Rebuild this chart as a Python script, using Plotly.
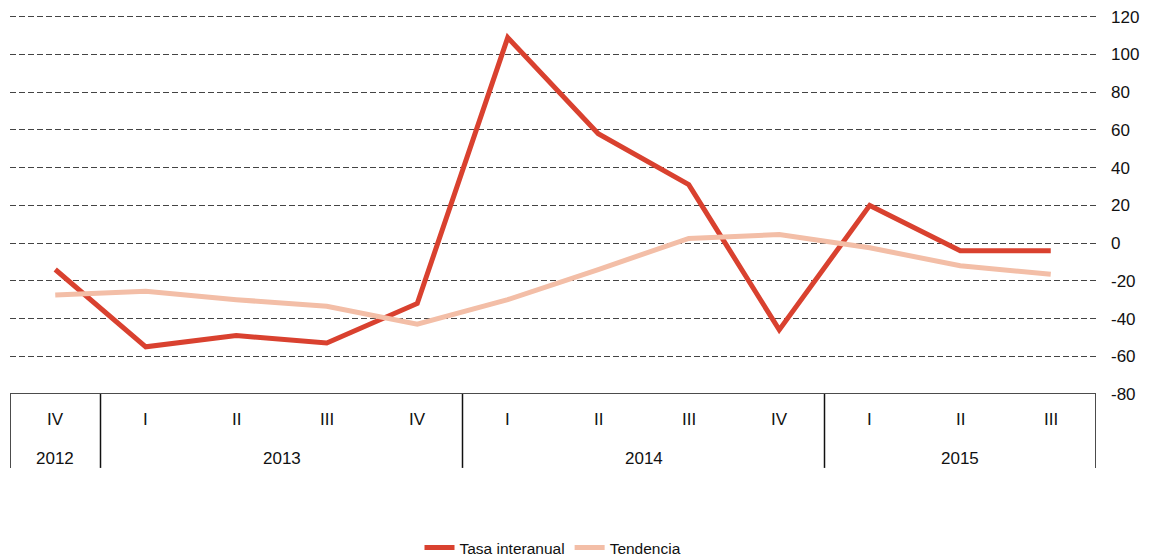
import plotly.graph_objects as go

quarters = ["IV", "I", "II", "III", "IV", "I", "II", "III", "IV", "I", "II", "III"]
years = ["2012", "2013", "2014", "2015"]
year_spans = [(0, 0), (1, 4), (5, 8), (9, 11)]
tasa = [-14, -55, -49, -53, -32, 109, 58, 31, -46, 20, -4, -4]
tendencia = [-27.5, -25.5, -30, -33.5, -43, -30, -14, 2.5, 4.5, -2.5, -12, -16.5]
y_ticks = [-80, -60, -40, -20, 0, 20, 40, 60, 80, 100, 120]
y_tick_labels = ["-80", "-60", "-40", "-20", "0", "20", "40", "60", "80", "100", "120"]

x = list(range(len(quarters)))

fig = go.Figure()
fig.add_trace(go.Scatter(x=x, y=tasa, mode="lines", name="Tasa interanual",
                         line=dict(color="#d9412f", width=5)))
fig.add_trace(go.Scatter(x=x, y=tendencia, mode="lines", name="Tendencia",
                         line=dict(color="#f3bea7", width=5)))

font = "Liberation Sans, Arial, sans-serif"

# page body has an 8px margin, so the figure is 8px smaller on each axis
fig.update_layout(
    width=1142, height=550,
    margin=dict(l=2, r=54, t=4.7, b=164, autoexpand=False),
    plot_bgcolor="white", paper_bgcolor="white",
    font=dict(family=font, size=17, color="#111"),
    showlegend=True,
    legend=dict(orientation="h", x=0.5, xanchor="center", y=-0.404, yanchor="middle",
                font=dict(size=15.5, color="#111"), tracegroupgap=0),
    xaxis=dict(range=[-0.5, len(quarters) - 0.5], showticklabels=False, showgrid=False,
               zeroline=False, showline=False, fixedrange=True, automargin=False),
    yaxis=dict(side="right", range=[-80, 122], tickvals=y_ticks, ticktext=y_tick_labels,
               showgrid=True, gridcolor="#444", griddash="6px,3px", gridwidth=1,
               zeroline=False, showline=False, ticks="", ticklabelstandoff=14,
               ticklabeloverflow="allow",
               automargin=False, tickfont=dict(size=17, color="#111")),
)

# table top line
fig.add_shape(type="line", xref="paper", yref="y", x0=0, x1=1, y0=-80, y1=-80,
              line=dict(color="#111", width=1.5))
# vertical separators
bounds = [-0.5] + [end + 0.5 for (_, end) in year_spans]
for b in bounds:
    fig.add_shape(type="line", xref="x", yref="paper", x0=b, x1=b, y0=0, y1=-0.194,
                  line=dict(color="#111", width=1.5))

for i, q in enumerate(quarters):
    fig.add_annotation(x=i, y=-0.068, xref="x", yref="paper", text=q, showarrow=False,
                       font=dict(size=17, color="#111"), yanchor="middle")
for yr, (s, e) in zip(years, year_spans):
    fig.add_annotation(x=(s + e) / 2, y=-0.168, xref="x", yref="paper", text=yr,
                       showarrow=False, font=dict(size=17, color="#111"), yanchor="middle")

fig.write_html("out.html")
